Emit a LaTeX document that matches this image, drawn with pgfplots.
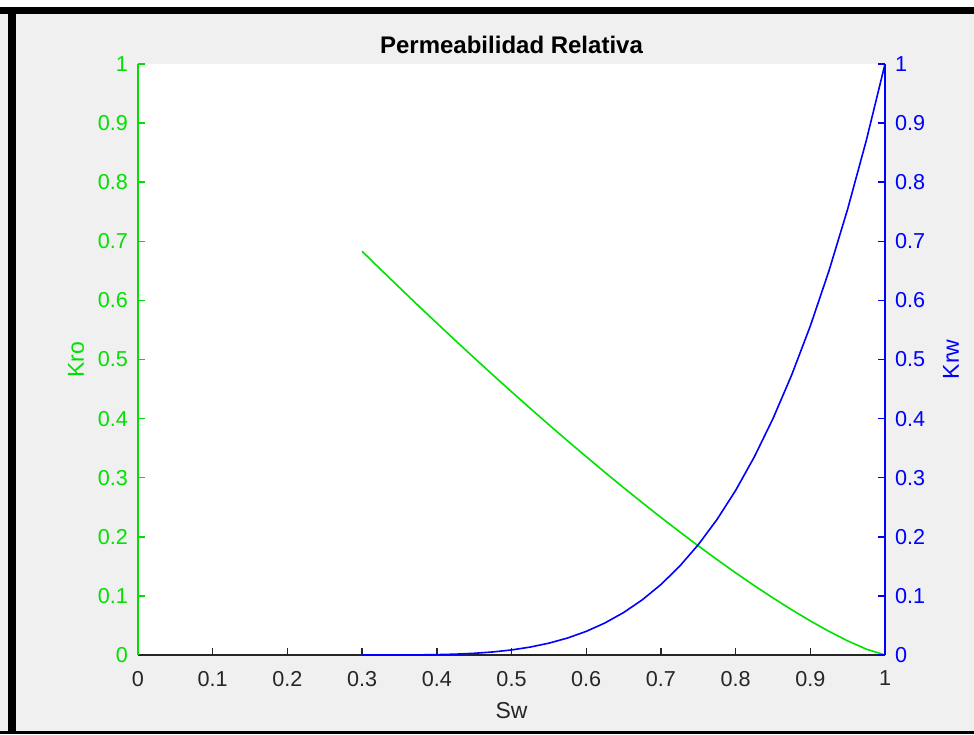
\documentclass[border=0pt]{standalone}
\usepackage{fontspec}
\setmainfont{Liberation Sans}
\usepackage{pgfplots}
\pgfplotsset{compat=1.18}
\definecolor{mgreen}{RGB}{0,225,0}
\definecolor{mblue}{RGB}{0,0,255}
\definecolor{mgray}{RGB}{38,38,38}
\definecolor{figgray}{RGB}{240,240,240}

\pgfplotsset{
  mbase/.style={
    at={(69pt,39.5pt)}, anchor=south west,
    scale only axis, width=373.5pt, height=295.5pt,
    xmin=0, xmax=1, ymin=0, ymax=1,
    xtick={0,0.1,...,1}, ytick={0,0.1,...,1},
    tick align=inside, major tick length=3.5pt,
    /pgf/number format/assume math mode=true,
    tick label style={font=\fontsize{10.8}{12}\selectfont},
    label style={font=\fontsize{11.5}{13}\selectfont},
    axis line style={line width=0.7pt},
    every tick/.append style={line width=0.7pt},
  },
}

\begin{document}
\begin{tikzpicture}
% window frame of the screenshot
\fill[figgray] (0,0) rectangle (487pt,367pt);
\fill[white] (0,363.5pt) rectangle (487pt,367pt);
\fill[black] (0,360pt) rectangle (487pt,363.5pt);
\fill[black] (4pt,0) rectangle (8pt,363.5pt);
\fill[black] (0,0) rectangle (487pt,1.7pt);

\begin{axis}[mbase,
  axis background/.style={fill=white},
  axis x line*=bottom, axis y line*=left,
  x axis line style={draw=mgray},
  y axis line style={draw=mgreen},
  xtick style={draw=mgray}, ytick style={draw=mgreen},
  xticklabel style={text=mgray, yshift=-4.5pt},
  yticklabel style={text=mgreen, xshift=-1.5pt},
  title={Permeabilidad Relativa},
  title style={font=\bfseries\fontsize{12}{14}\selectfont, text=black,
    at={(axis description cs:0.5,1)}, anchor=center, yshift=3.5pt},
  xlabel={Sw}, xlabel style={text=mgray, at={(axis description cs:0.5,0)}, anchor=center, yshift=-28pt},
  ylabel={Kro}, ylabel style={text=mgreen, at={(axis description cs:0,0.5)}, anchor=center, yshift=31pt},
]
\addplot[mgreen, line width=0.8pt] coordinates {
(0.300,0.6830)(0.325,0.6522)(0.350,0.6217)(0.375,0.5914)(0.400,0.5616)
(0.425,0.5320)(0.450,0.5028)(0.475,0.4739)(0.500,0.4455)(0.525,0.4174)
(0.550,0.3897)(0.575,0.3624)(0.600,0.3356)(0.625,0.3091)(0.650,0.2832)
(0.675,0.2578)(0.700,0.2328)(0.725,0.2085)(0.750,0.1847)(0.775,0.1616)
(0.800,0.1391)(0.825,0.1174)(0.850,0.0966)(0.875,0.0766)(0.900,0.0577)
(0.925,0.0400)(0.950,0.0239)(0.975,0.0099)(1.000,0.0000)};
\end{axis}

\begin{axis}[mbase,
  axis x line=none, axis y line*=right,
  y axis line style={draw=mblue},
  ytick style={draw=mblue},
  yticklabel style={text=mblue, xshift=1.5pt},
  ylabel={Krw}, ylabel style={text=mblue, at={(axis description cs:1,0.5)}, anchor=center, yshift=-33pt},
]
\addplot[mblue, line width=0.8pt] coordinates {
(0.300,0.00000)(0.325,0.00000)(0.350,0.00004)(0.375,0.00021)(0.400,0.00062)
(0.425,0.00143)(0.450,0.00287)(0.475,0.00516)(0.500,0.00856)(0.525,0.01340)
(0.550,0.02000)(0.575,0.02871)(0.600,0.03997)(0.625,0.05418)(0.650,0.07179)
(0.675,0.09331)(0.700,0.1192)(0.725,0.1501)(0.750,0.1866)(0.775,0.2291)
(0.800,0.2784)(0.825,0.3351)(0.850,0.3999)(0.875,0.4736)(0.900,0.5567)
(0.925,0.6501)(0.950,0.7546)(0.975,0.8709)(1.000,1.0000)};
\end{axis}
\end{tikzpicture}
\end{document}
